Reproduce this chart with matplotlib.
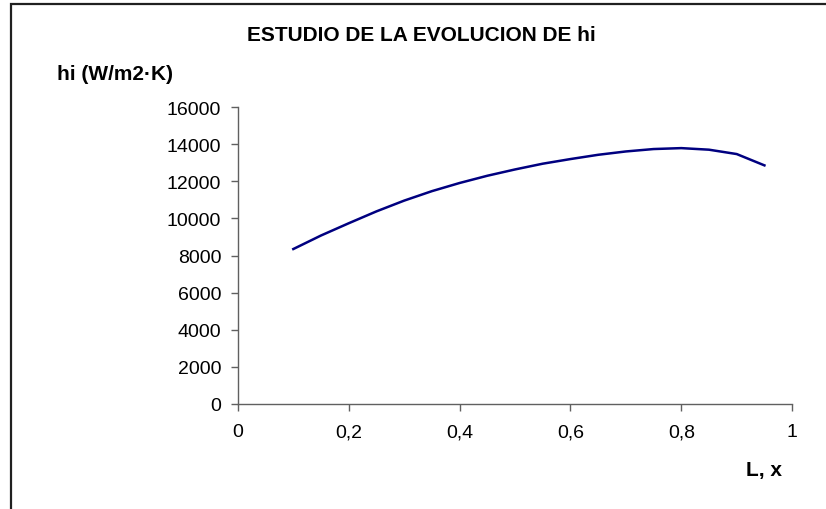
import matplotlib.pyplot as plt
from matplotlib.patches import Rectangle

plt.rcParams["font.family"] = ["Liberation Sans", "DejaVu Sans"]

# Data
x_vals = [0.10, 0.15, 0.20, 0.25, 0.30, 0.35, 0.40, 0.45, 0.50, 0.55,
          0.60, 0.65, 0.70, 0.75, 0.80, 0.85, 0.90, 0.95]
hi_vals = [8350, 9080, 9740, 10380, 10960, 11470, 11910, 12300, 12640, 12950,
           13200, 13430, 13610, 13740, 13790, 13705, 13470, 12860]
x_ticks = [0, 0.2, 0.4, 0.6, 0.8, 1]
x_tick_labels = ["0", "0,2", "0,4", "0,6", "0,8", "1"]
y_ticks = list(range(0, 16001, 2000))

fig = plt.figure(figsize=(8.26, 5.10), dpi=100)
ax = fig.add_axes([0.288, 0.206, 0.671, 0.582])

ax.plot(x_vals, hi_vals, color="#000080", linewidth=1.8,
        solid_joinstyle="round")

ax.set_xlim(0, 1)
ax.set_ylim(0, 16000)
ax.set_xticks(x_ticks)
ax.set_xticklabels(x_tick_labels)
ax.set_yticks(y_ticks)
ax.tick_params(axis="both", direction="out", length=5, width=1,
               labelsize=14, color="#606060", labelcolor="black")
ax.tick_params(axis="x", pad=9)
ax.tick_params(axis="y", pad=7)
for side in ["top", "right"]:
    ax.spines[side].set_visible(False)
for side in ["left", "bottom"]:
    ax.spines[side].set_color("#606060")
    ax.spines[side].set_linewidth(1)

fig.text(0.510, 0.931, "ESTUDIO DE LA EVOLUCION DE hi", ha="center", va="center",
         fontsize=15, fontweight="bold")
fig.text(0.069, 0.853, "hi (W/m2·K)", ha="left", va="center",
         fontsize=15, fontweight="bold")
fig.text(0.947, 0.078, "L, x", ha="right", va="center",
         fontsize=15, fontweight="bold")

# chart-area border (extends beyond the image on right and bottom)
fig.add_artist(Rectangle((0.0133, -0.1), 1.2, 1.09, transform=fig.transFigure,
                         fill=False, edgecolor="#202020", linewidth=1.6))

fig.savefig("out.png", dpi=100)
plt.close(fig)
